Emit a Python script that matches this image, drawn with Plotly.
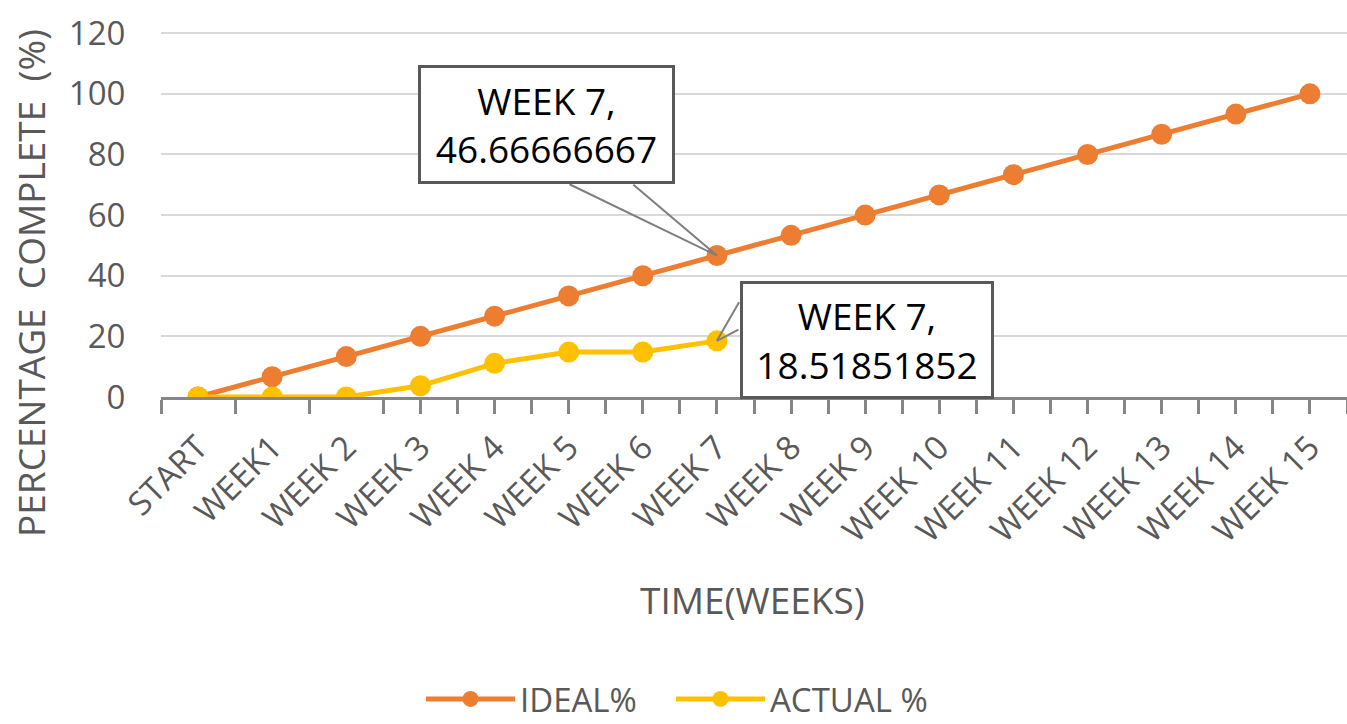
import plotly.graph_objects as go

categories = ["START", "WEEK1", "WEEK 2", "WEEK 3", "WEEK 4", "WEEK 5", "WEEK 6", "WEEK 7",
              "WEEK 8", "WEEK 9", "WEEK 10", "WEEK 11", "WEEK 12", "WEEK 13", "WEEK 14", "WEEK 15"]
ideal = [0, 6.666666667, 13.33333333, 20, 26.66666667, 33.33333333, 40, 46.66666667,
         53.33333333, 60, 66.66666667, 73.33333333, 80, 86.66666667, 93.33333333, 100]
actual = [0, 0, 0, 3.703703704, 11.11111111, 14.81481481, 14.81481481, 18.51851852]
y_ticks = [0, 20, 40, 60, 80, 100, 120]
# positions (in category units) of the small marks along the x axis
x_tick_marks = [-0.5, 0.5, 1.5, 2.5] + [i / 2 for i in range(6, 32)]

cat_pos = list(range(len(categories)))          # category positions on the axis
actual_pos = cat_pos[:len(actual)]
wk7 = categories.index("WEEK 7")

ORANGE = "#ED7D31"
YELLOW = "#FFC000"
GRAY = "#595959"
AXIS_GRAY = "#868686"
FONT = "Open Sans"

fig = go.Figure()
fig.add_trace(go.Scatter(x=cat_pos, y=ideal, name="IDEAL%", mode="lines+markers", legend="legend",
                         line=dict(color=ORANGE, width=5), marker=dict(color=ORANGE, size=21)))
fig.add_trace(go.Scatter(x=actual_pos, y=actual, name="ACTUAL %", mode="lines+markers", legend="legend2",
                         line=dict(color=YELLOW, width=5), marker=dict(color=YELLOW, size=21)))

LEGEND = dict(orientation="h", xanchor="left", xref="container", yref="container",
              y=(724 - 699) / 724, yanchor="middle", bgcolor="rgba(0,0,0,0)",
              font=dict(size=33, color=GRAY), itemwidth=89)

fig.update_layout(
    width=1347, height=724,
    margin=dict(l=161, r=0, t=32, b=327),
    plot_bgcolor="white", paper_bgcolor="white",
    font=dict(family=FONT, color=GRAY),
    xaxis=dict(
        range=[-0.5, len(categories) - 0.5], automargin=False,
        tickmode="array", tickvals=cat_pos, ticktext=categories,
        showgrid=False, zeroline=False, showline=True, linecolor=AXIS_GRAY, linewidth=3,
        ticks="", tickangle=-45, tickfont=dict(size=33, color=GRAY), ticklabelstandoff=15,
        minor=dict(tickmode="array", tickvals=x_tick_marks, ticks="outside", ticklen=14,
                   tickwidth=3, tickcolor=AXIS_GRAY, showgrid=False),
    ),
    yaxis=dict(
        range=[0, 120.4], tickvals=y_ticks, showgrid=True, gridcolor="#D9D9D9", gridwidth=2,
        zeroline=False, showline=False, automargin=False,
        ticks="outside", ticklen=28, tickcolor="rgba(0,0,0,0)",
        tickfont=dict(size=33, color=GRAY),
    ),
    legend=dict(x=421 / 1347, **LEGEND),
    legend2=dict(x=671 / 1347, **LEGEND),
    showlegend=True,
)

# axis titles
fig.add_annotation(xref="paper", yref="paper", x=(752 - 161) / 1186, y=(397 - 599) / 365,
                   text="TIME(WEEKS)", showarrow=False, xanchor="center", yanchor="middle",
                   font=dict(size=37, color=GRAY))
fig.add_annotation(xref="paper", yref="paper", x=(30 - 161) / 1186, y=(397 - 283) / 365,
                   text="PERCENTAGE  COMPLETE  (%)", textangle=-90, showarrow=False,
                   xanchor="center", yanchor="middle", font=dict(size=37, color=GRAY))

# data callouts (wedge drawn as two leader lines + boxed label)
LEADER = dict(showarrow=True, arrowhead=0, arrowwidth=2, arrowcolor="#7F7F7F",
              text="", standoff=0, startstandoff=0)
fig.add_annotation(x=wk7, y=ideal[wk7], ax=-149, ay=-72, **LEADER)
fig.add_annotation(x=wk7, y=ideal[wk7], ax=-85, ay=-72, **LEADER)
fig.add_annotation(x=wk7, y=actual[wk7], ax=23, ay=-40, **LEADER)
fig.add_annotation(x=wk7, y=actual[wk7], ax=23, ay=-12, **LEADER)

BOX = dict(showarrow=False, bgcolor="white", bordercolor=GRAY, borderwidth=3,
           font=dict(family=FONT, size=37, color="black"), xanchor="center", yanchor="middle")
fig.add_annotation(x=wk7, y=ideal[wk7], text="WEEK 7,<br>46.66666667",
                   xshift=-170, yshift=131, width=249, height=111, **BOX)
fig.add_annotation(x=wk7, y=actual[wk7], text="WEEK 7,<br>18.51851852",
                   xshift=150, yshift=1, width=246, height=110, **BOX)

fig.write_html("out.html", config={"displayModeBar": False},
               post_script="document.body.style.margin='0';")
